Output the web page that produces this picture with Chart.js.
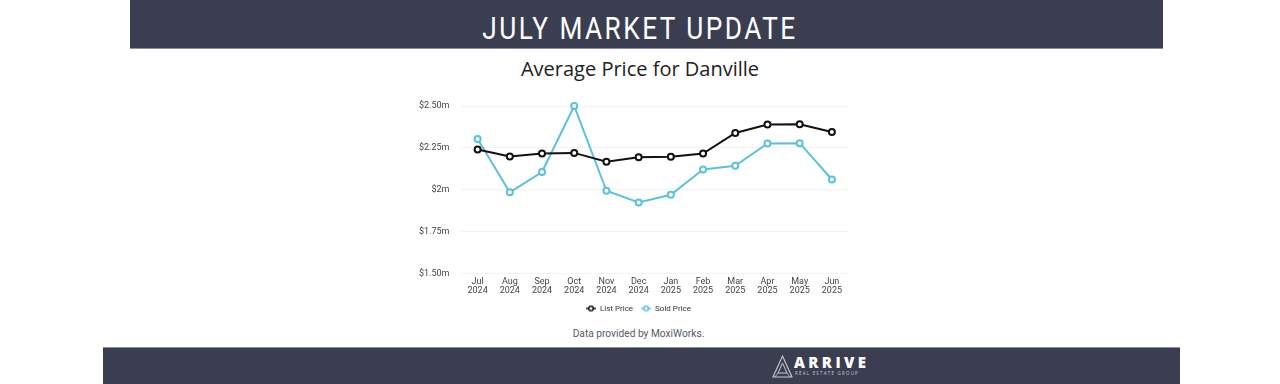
<!DOCTYPE html>
<html>
<head>
<meta charset="utf-8">
<script src="https://cdn.jsdelivr.net/npm/chart.js@4"></script>
<style>
  html, body { margin: 0; padding: 0; background: #fff; }
  body { width: 1280px; height: 384px; position: relative; overflow: hidden; font-family: "Open Sans", sans-serif; }
  .top-banner { position: absolute; left: 130px; top: 0; width: 1033px; height: 48px; background: #3b3d51; border-bottom: 1px solid #8d8fa0; }
  .top-banner span { position: absolute; left: -130px; width: 1280px; top: 8px; text-align: center; color: #fff; font-family: Roboto, sans-serif; font-size: 32px; letter-spacing: 3px; line-height: 40px; transform: scaleX(0.82); }
  .bottom-banner { position: absolute; left: 103px; top: 347px; width: 1077px; height: 37px; background: #3b3d51; border-top: 1px solid #8d8fa0; }
  .title { position: absolute; left: 0; right: 0; top: 55px; text-align: center; font-size: 20px; color: #222; }
  .credit { position: absolute; left: 0; right: 0; top: 328px; text-align: center; padding-right: 3px; font-family: Roboto, sans-serif; font-size: 10.2px; color: #555b66; }
  .logo { position: absolute; left: 772px; top: 355px; width: 110px; height: 24px; }
  .logo svg { position: absolute; left: 0; top: 0; }
  .logo b { position: absolute; left: 22px; top: 0; line-height: 15px; color: #fff; font-family: "Open Sans", sans-serif; font-weight: 800; font-size: 15px; letter-spacing: 3.4px; }
  .logo i { position: absolute; left: 23px; top: 16px; line-height: 5px; color: #c8c9d2; font-style: normal; font-size: 4.5px; letter-spacing: 1.2px; white-space: nowrap; }
  canvas { position: absolute; left: 0; top: 0; }
</style>
</head>
<body>
<div class="top-banner"><span>JULY MARKET UPDATE</span></div>
<div class="title">Average Price for Danville</div>
<div class="credit">Data provided by MoxiWorks.</div>
<div class="bottom-banner"></div>
<div class="logo">
  <svg width="21" height="24" viewBox="0 0 21 24">
    <path d="M10.5 1 L20 22 L1 22 Z" fill="none" stroke="#c8c9d2" stroke-width="1.1"/>
    <path d="M10.5 8 L15 18 L6 18 Z" fill="none" stroke="#c8c9d2" stroke-width="1"/>
    <path d="M6 18 L3 22 M15 18 L18 22" stroke="#c8c9d2" stroke-width="0.8"/>
  </svg>
  <b>ARRIVE</b>
  <i>REAL ESTATE GROUP</i>
</div>
<canvas id="priceChart" width="1280" height="384"></canvas>
<script>
// Average price data, in millions of dollars
const months = [['Jul', '2024'], ['Aug', '2024'], ['Sep', '2024'], ['Oct', '2024'], ['Nov', '2024'], ['Dec', '2024'],
  ['Jan', '2025'], ['Feb', '2025'], ['Mar', '2025'], ['Apr', '2025'], ['May', '2025'], ['Jun', '2025']];
const listPrice = [2.240, 2.199, 2.216, 2.220, 2.167, 2.194, 2.197, 2.216, 2.339, 2.389, 2.391, 2.345];
const soldPrice = [2.303, 1.985, 2.106, 2.500, 1.994, 1.924, 1.970, 2.121, 2.143, 2.276, 2.278, 2.061];
const yTicks = [1.5, 1.75, 2, 2.25, 2.5];

const listColor = '#111111';
const soldColor = '#5bc2d9';

// legend marker: short line with a hollow circle in the middle
function legendMarker(color) {
  const c = document.createElement('canvas');
  c.width = 10;
  c.height = 8;
  const ctx = c.getContext('2d');
  ctx.strokeStyle = color;
  ctx.lineWidth = 1.5;
  ctx.beginPath();
  ctx.moveTo(0, 4);
  ctx.lineTo(10, 4);
  ctx.stroke();
  ctx.fillStyle = '#fff';
  ctx.beginPath();
  ctx.arc(5, 4, 2.3, 0, Math.PI * 2);
  ctx.fill();
  ctx.stroke();
  return c;
}

// the legend sits a little right of the canvas centre in the original
const nudgeLegend = {
  id: 'nudgeLegend',
  afterLayout(chart) {
    chart.legend.left += 11;
    chart.legend.right += 11;
  },
};

const priceChart = new Chart(document.getElementById('priceChart'), {
  type: 'line',
  data: {
    labels: months,
    datasets: [{
      label: 'List Price',
      data: listPrice,
      borderColor: listColor,
      backgroundColor: '#fff',
      borderWidth: 2,
      pointRadius: 3,
      pointBorderWidth: 2,
      pointBackgroundColor: '#fff',
      tension: 0,
      clip: false,
    }, {
      label: 'Sold Price',
      data: soldPrice,
      borderColor: soldColor,
      backgroundColor: '#fff',
      borderWidth: 2,
      pointRadius: 3,
      pointBorderWidth: 2,
      pointBackgroundColor: '#fff',
      tension: 0,
      clip: false,
    }],
  },
  options: {
    responsive: false,
    animation: false,
    layout: { padding: { left: 407, right: 432, top: 106, bottom: 61.5 } },
    scales: {
      x: {
        offset: true,
        grid: { display: false, drawTicks: false },
        border: { display: false },
        ticks: { color: '#444', font: { family: 'Roboto', size: 9, lineHeight: 1.0 }, maxRotation: 0, padding: 4 },
        afterFit: axis => { axis.height -= 3; },
      },
      y: {
        min: 1.5,
        max: 2.5,
        afterBuildTicks: axis => { axis.ticks = yTicks.map(v => ({ value: v })); },
        grid: { color: '#f3f3f3', drawTicks: false },
        border: { display: false },
        ticks: {
          color: '#444',
          font: { family: 'Roboto', size: 9 },
          padding: 12,
          callback: v => '$' + (Number.isInteger(v) ? v : v.toFixed(2)) + 'm',
        },
      },
    },
    plugins: {
      tooltip: { enabled: false },
      legend: {
        position: 'bottom',
        labels: {
          color: '#333',
          font: { family: 'Roboto', size: 8 },
          usePointStyle: true,
          pointStyleWidth: 10,
          boxHeight: 8,
          padding: 8,
          generateLabels: chart => chart.data.datasets.map((ds, i) => ({
            text: ds.label,
            fontColor: '#333',
            pointStyle: legendMarker(ds.borderColor),
            strokeStyle: ds.borderColor,
            lineWidth: 0,
            datasetIndex: i,
            hidden: false,
          })),
        },
      },
    },
  },
  plugins: [nudgeLegend],
});
</script>
</body>
</html>
